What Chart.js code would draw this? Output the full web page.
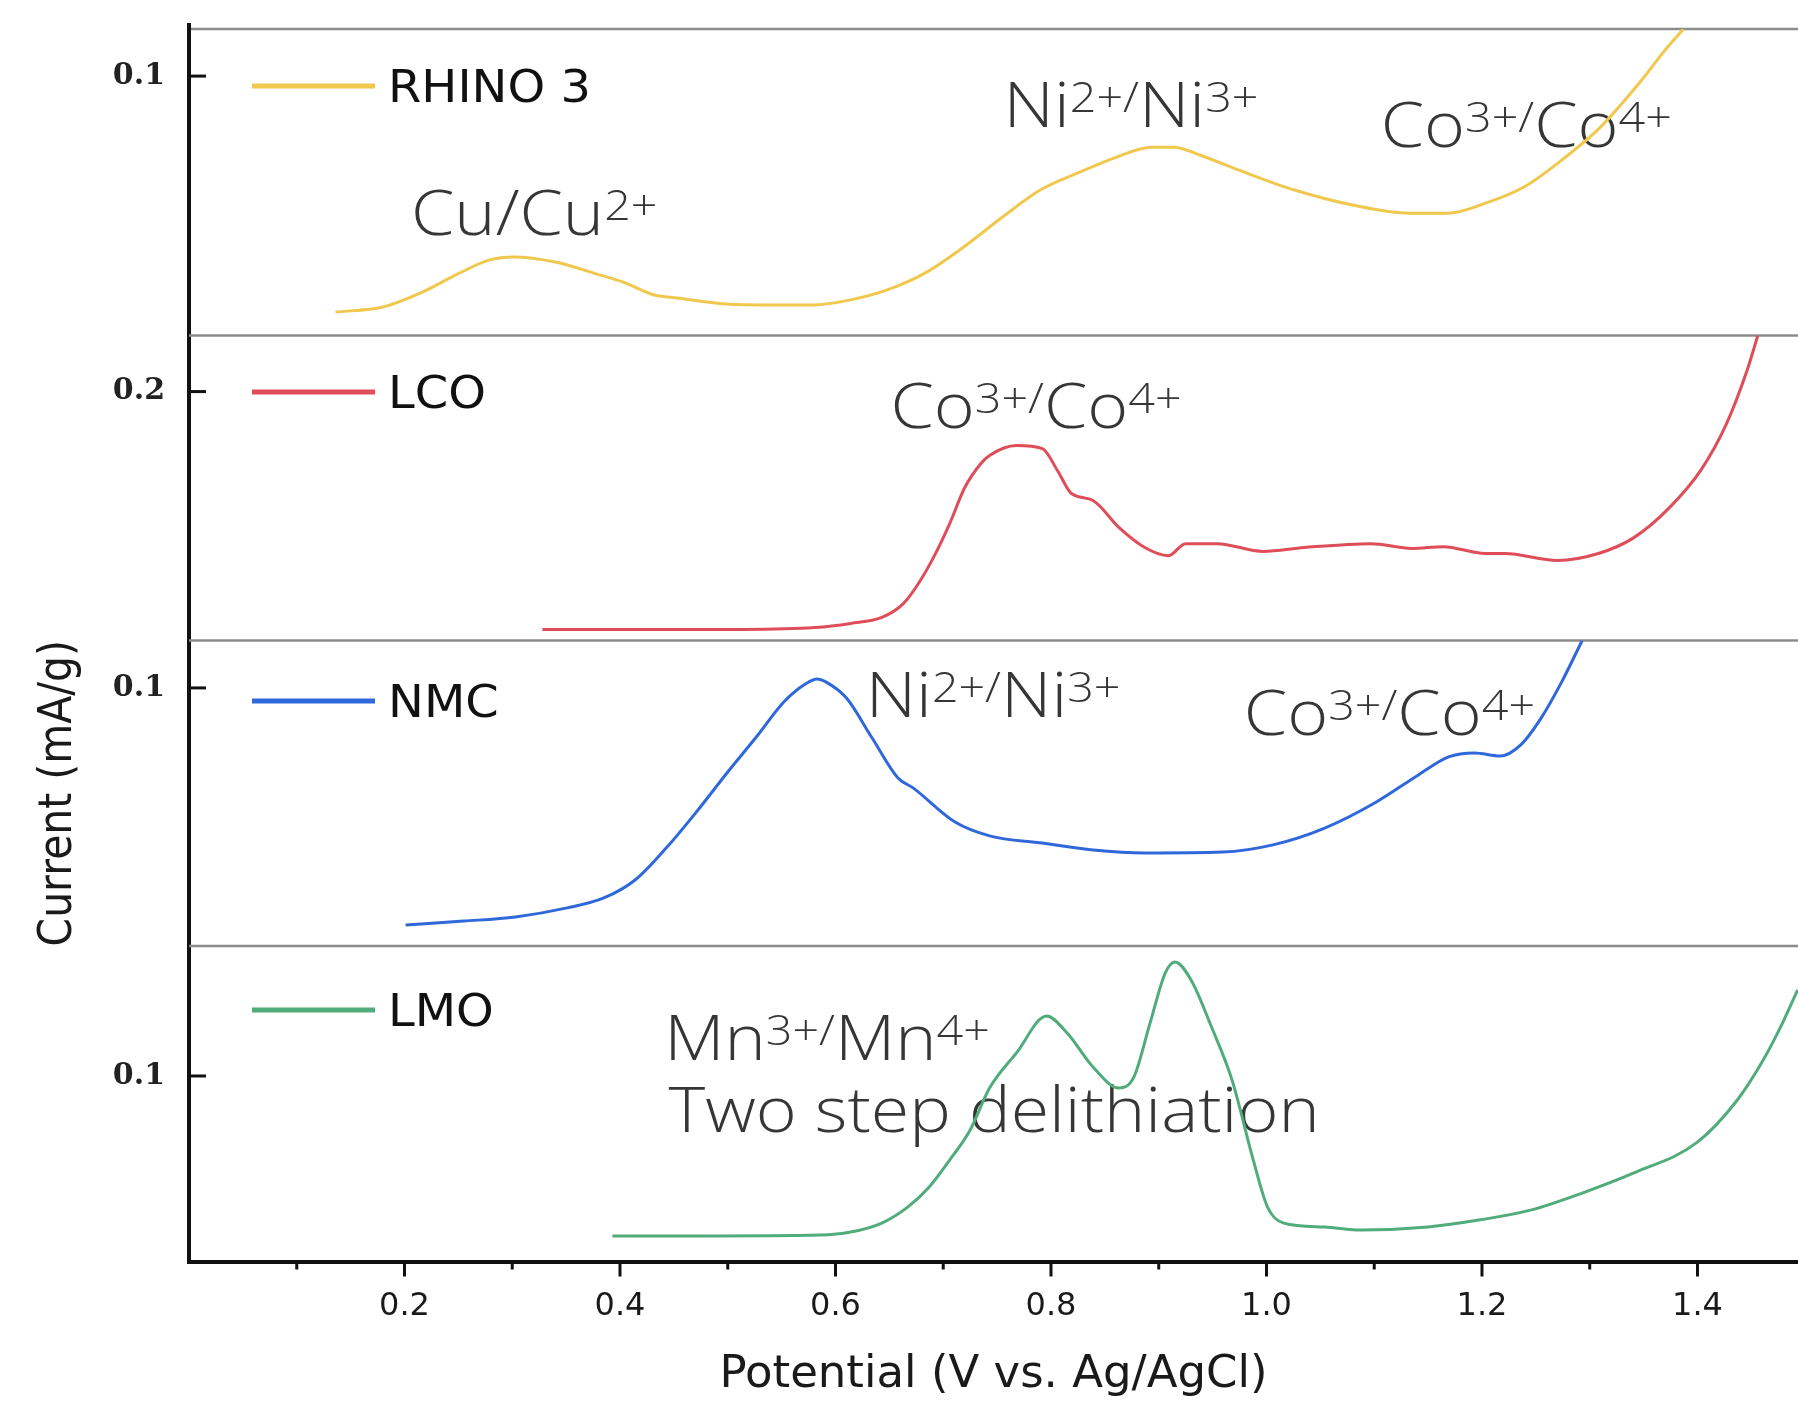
<!DOCTYPE html>
<html>
<head>
<meta charset="utf-8">
<script src="https://cdn.jsdelivr.net/npm/chart.js@4.4.1/dist/chart.umd.min.js"></script>
<style>
html,body{margin:0;padding:0;background:#fff;overflow:hidden;}
#wrap{width:1798px;height:1404px;position:relative;}
canvas{display:block;}
</style>
</head>
<body>
<div id="wrap"><canvas id="c" width="1798" height="1404"></canvas></div>
<script>
// ---------------- DATA ----------------
const seriesNames = ['RHINO 3', 'LCO', 'NMC', 'LMO'];

const potRHINO = [0.136,0.180,0.215,0.251,0.279,0.301,0.340,0.381,0.403,0.432,0.453,0.498,0.541,0.580,0.613,0.648,0.683,0.719,0.755,0.790,0.825,0.861,0.893,0.914,0.938,0.974,1.026,1.080,1.133,1.168,1.204,1.239,1.274,1.310,1.346,1.370,1.387];
const curRHINO = [0.0213,0.0230,0.0277,0.0343,0.0387,0.0397,0.0380,0.0337,0.0313,0.0270,0.0260,0.0240,0.0237,0.0237,0.0253,0.0287,0.0343,0.0430,0.0530,0.0620,0.0677,0.0730,0.0763,0.0763,0.0737,0.0687,0.0620,0.0570,0.0543,0.0543,0.0577,0.0630,0.0720,0.0830,0.0977,0.1087,0.1157];

const potLCO = [0.328,0.420,0.514,0.581,0.614,0.643,0.663,0.677,0.691,0.706,0.720,0.735,0.743,0.768,0.792,0.806,0.819,0.839,0.863,0.887,0.909,0.925,0.954,0.997,1.035,1.097,1.135,1.164,1.203,1.221,1.270,1.308,1.341,1.374,1.403,1.427,1.446,1.456];
const curLCO = [0.1207,0.1207,0.1207,0.1213,0.1227,0.1247,0.1293,0.1360,0.1447,0.1560,0.1680,0.1760,0.1787,0.1820,0.1810,0.1737,0.1660,0.1637,0.1547,0.1480,0.1453,0.1493,0.1493,0.1467,0.1480,0.1493,0.1477,0.1483,0.1460,0.1460,0.1437,0.1460,0.1513,0.1613,0.1737,0.1893,0.2070,0.2187];

const potNMC = [0.201,0.255,0.303,0.351,0.385,0.414,0.443,0.471,0.500,0.528,0.552,0.572,0.583,0.591,0.610,0.634,0.658,0.672,0.711,0.743,0.792,0.839,0.887,0.959,1.006,1.054,1.102,1.141,1.169,1.193,1.217,1.236,1.255,1.274,1.293];
const curNMC = [0.0210,0.0223,0.0237,0.0267,0.0300,0.0360,0.0467,0.0587,0.0720,0.0843,0.0953,0.1013,0.1030,0.1020,0.0967,0.0833,0.0700,0.0667,0.0553,0.0507,0.0483,0.0460,0.0450,0.0453,0.0477,0.0533,0.0620,0.0710,0.0770,0.0783,0.0773,0.0810,0.0900,0.1020,0.1158];

const potLMO = [0.393,0.471,0.586,0.614,0.643,0.667,0.687,0.706,0.725,0.743,0.768,0.796,0.815,0.839,0.863,0.877,0.892,0.906,0.915,0.930,0.949,0.968,0.987,1.001,1.016,1.054,1.088,1.150,1.197,1.245,1.293,1.341,1.399,1.437,1.461,1.479,1.493];
const curLMO = [0.0467,0.0467,0.0470,0.0480,0.0510,0.0563,0.0630,0.0720,0.0820,0.0960,0.1077,0.1200,0.1143,0.1030,0.0960,0.0997,0.1177,0.1343,0.1380,0.1320,0.1163,0.0987,0.0730,0.0563,0.0510,0.0497,0.0487,0.0497,0.0520,0.0553,0.0610,0.0677,0.0777,0.0920,0.1053,0.1177,0.1287];

const xTickValues = [0.1,0.2,0.3,0.4,0.5,0.6,0.7,0.8,0.9,1.0,1.1,1.2,1.3,1.4];
const yTickValues = [0.1, 0.2, 0.1, 0.1];
const yMins = [0.0135, 0.117, 0.014, 0.0382];
const yMaxs = [0.1157, 0.2187, 0.1158, 0.1433];
const xMin = 0, xMax = 1.4933;

const xTitle = 'Potential (V vs. Ag/AgCl)';
const yTitle = 'Current (mA/g)';

// annotation texts: parts [text, isSuperscript], anchored at (x,y) in a panel
const annotTexts = [
  [['Cu/Cu',0],['2+',1]],
  [['Ni',0],['2+/',1],['Ni',0],['3+',1]],
  [['Co',0],['3+/',1],['Co',0],['4+',1]],
  [['Co',0],['3+/',1],['Co',0],['4+',1]],
  [['Ni',0],['2+/',1],['Ni',0],['3+',1]],
  [['Co',0],['3+/',1],['Co',0],['4+',1]],
  [['Mn',0],['3+/',1],['Mn',0],['4+',1]],
  [['Two step delithiation',0]]
];
const annotPanel = [0,0,0,1,2,2,3,3];
const annotX = [0.206, 0.756, 1.106, 0.651, 0.628, 0.979, 0.441, 0.445];
const annotY = [0.047, 0.083, 0.0763, 0.1877, 0.0903, 0.0843, 0.1053, 0.0813];

// ---------------- STYLE ----------------
const axisIds = ['yR','yL','yN','yM'];
const seriesColors = ['#F0C84E','#DE4D58','#2F68DA','#50AC7B'];
const panelWeights = [306.5, 305, 305.5, 315.5];
const legendOffsets = [57, 56.5, 60.5, 64];
const AX_LEFT = 189;
const ANN_FONT = 63, SUP_FONT = 42, SUP_RAISE = 15, ANN_STRETCH = 1.11;
const LEG_STRETCH = 1.09;

const pots = [potRHINO, potLCO, potNMC, potLMO];
const curs = [curRHINO, curLCO, curNMC, curLMO];

const datasets = seriesNames.map((name, i) => ({
  label: name,
  data: pots[i].map((x, k) => ({x: x, y: curs[i][k]})),
  yAxisID: axisIds[i],
  borderColor: seriesColors[i],
  backgroundColor: seriesColors[i],
  borderWidth: 3,
  pointRadius: 0,
  fill: false,
  cubicInterpolationMode: 'monotone'
}));

function yScale(i) {
  return {
    type: 'linear', position: 'left', stack: 'panels', stackWeight: panelWeights[i], weight: 4 - i,
    min: yMins[i], max: yMaxs[i],
    grid: {display: false, drawTicks: false},
    border: {display: true, color: '#111', width: 4},
    ticks: {padding: 24, color: '#222', font: {family: 'DejaVu Serif', size: 30, weight: 'bold'},
            callback: v => Number(v).toFixed(1)},
    afterBuildTicks: s => { s.ticks = [{value: yTickValues[i]}]; },
    afterFit: s => { s.width = AX_LEFT; s.paddingTop = 0; s.paddingBottom = 0; },
    title: {display: false}
  };
}

const scales = {
  x: {
    type: 'linear', position: 'bottom', min: xMin, max: xMax,
    grid: {display: false, drawTicks: false},
    border: {display: true, color: '#111', width: 4},
    ticks: {autoSkip: false, maxRotation: 0, padding: 26, color: '#1a1a1a',
            font: {family: 'DejaVu Sans', size: 32},
            callback: v => (Math.round(v * 10) % 2 === 0 ? Number(v).toFixed(1) : '')},
    afterBuildTicks: s => { s.ticks = xTickValues.map(v => ({value: v})); },
    afterFit: s => { s.height = 1404 - 1261.5; s.paddingLeft = 0; s.paddingRight = 0; },
    title: {display: true, text: xTitle, color: '#1a1a1a',
            font: {family: 'DejaVu Sans', size: 45}, padding: {top: 0, bottom: 2}}
  }
};
axisIds.forEach((id, i) => { scales[id] = yScale(i); });

const panelPlugin = {
  id: 'panelPlugin',
  beforeDatasetsDraw(chart) {
    const ctx = chart.ctx, area = chart.chartArea, xs = chart.scales.x;
    ctx.save();
    // panel separators
    ctx.strokeStyle = '#8c8c8c';
    ctx.lineWidth = 2.5;
    axisIds.forEach(id => {
      const s = chart.scales[id];
      ctx.beginPath();
      ctx.moveTo(area.left, s.top);
      ctx.lineTo(area.right, s.top);
      ctx.stroke();
    });
    // small extension of the left axis above the frame
    ctx.strokeStyle = '#111';
    ctx.lineWidth = 4;
    ctx.beginPath();
    ctx.moveTo(area.left, area.top - 6);
    ctx.lineTo(area.left, area.top + 2);
    ctx.stroke();
    // annotations
    ctx.fillStyle = '#363636';
    ctx.textAlign = 'left';
    ctx.textBaseline = 'alphabetic';
    annotTexts.forEach((parts, k) => {
      const ys = chart.scales[axisIds[annotPanel[k]]];
      const x0 = xs.getPixelForValue(annotX[k]);
      const y = ys.getPixelForValue(annotY[k]);
      ctx.save();
      ctx.translate(x0, y);
      ctx.scale(ANN_STRETCH, 1);
      let x = 0;
      parts.forEach(([t, sup]) => {
        ctx.font = '300 ' + (sup ? SUP_FONT : ANN_FONT) + 'px "Open Sans"';
        ctx.fillText(t, x, sup ? -SUP_RAISE : 0);
        x += ctx.measureText(t).width;
      });
      ctx.restore();
    });
    ctx.restore();
  },
  afterDatasetsDraw(chart) {
    const ctx = chart.ctx, area = chart.chartArea, xs = chart.scales.x;
    ctx.save();
    ctx.strokeStyle = '#111';
    ctx.lineWidth = 3;
    // x ticks (outward), major every 0.2
    xTickValues.forEach(v => {
      const px = xs.getPixelForValue(v);
      const len = Math.round(v * 10) % 2 === 0 ? 15 : 8;
      ctx.beginPath();
      ctx.moveTo(px, area.bottom);
      ctx.lineTo(px, area.bottom + len);
      ctx.stroke();
    });
    // y ticks (inward)
    axisIds.forEach((id, i) => {
      const s = chart.scales[id];
      const py = s.getPixelForValue(yTickValues[i]);
      ctx.beginPath();
      ctx.moveTo(area.left, py);
      ctx.lineTo(area.left + 17, py);
      ctx.stroke();
    });
    // in-panel legends
    axisIds.forEach((id, i) => {
      const s = chart.scales[id];
      const cy = s.top + legendOffsets[i];
      ctx.strokeStyle = seriesColors[i];
      ctx.lineWidth = 5;
      ctx.beginPath();
      ctx.moveTo(area.left + 63, cy);
      ctx.lineTo(area.left + 186, cy);
      ctx.stroke();
      ctx.save();
      ctx.translate(area.left + 199, cy + 16);
      ctx.scale(LEG_STRETCH, 1);
      ctx.fillStyle = '#111';
      ctx.font = '44px "DejaVu Sans"';
      ctx.textAlign = 'left';
      ctx.textBaseline = 'alphabetic';
      ctx.fillText(seriesNames[i], 0, 0);
      ctx.restore();
    });
    // y-axis title, centred on the NMC panel
    const sN = chart.scales.yN;
    ctx.save();
    ctx.translate(59, (sN.top + sN.bottom) / 2);
    ctx.rotate(-Math.PI / 2);
    ctx.scale(0.89, 1);
    ctx.fillStyle = '#1a1a1a';
    ctx.font = '46px "DejaVu Sans"';
    ctx.textAlign = 'center';
    ctx.textBaseline = 'middle';
    ctx.fillText(yTitle, 0, 0);
    ctx.restore();
    ctx.restore();
  }
};

new Chart(document.getElementById('c'), {
  type: 'line',
  data: {datasets: datasets},
  options: {
    responsive: false,
    devicePixelRatio: 1,
    animation: false,
    events: [],
    layout: {padding: {top: 29, left: 0, right: 0, bottom: 0}},
    plugins: {legend: {display: false}, tooltip: {enabled: false}, title: {display: false}},
    scales: scales
  },
  plugins: [panelPlugin]
});
</script>
</body>
</html>
